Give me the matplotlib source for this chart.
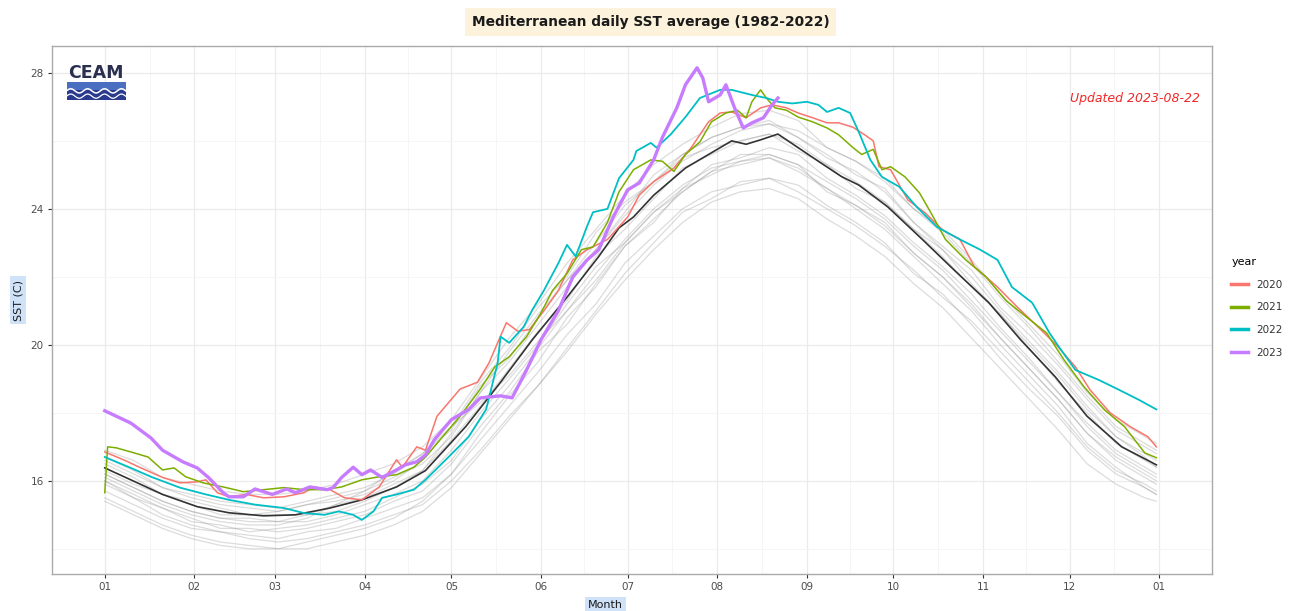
import numpy as np
import matplotlib
matplotlib.use("Agg")
import matplotlib.pyplot as plt
from matplotlib.lines import Line2D
from matplotlib.patches import Rectangle

# month breaks (day of year) and labels
month_days = [0, 31, 59, 90, 120, 151, 181, 212, 243, 273, 304, 334, 365]
month_labels = ["01", "02", "03", "04", "05", "06", "07", "08", "09", "10", "11", "12", "01"]

# historical years 1982-2019 (representative subset)
grey_days = [0, 10, 20, 30, 40, 50, 60, 70, 80, 90, 100, 110, 120, 130, 140, 150, 160, 170,
             180, 190, 200, 210, 220, 230, 240, 250, 260, 270, 280, 290, 300, 310, 320, 330,
             340, 350, 360, 364]
grey_years = [
    [15.7, 15.3, 14.9, 14.6, 14.5, 14.3, 14.2, 14.3, 14.5, 14.7, 15.0, 15.3, 16.0, 16.9, 17.9, 18.8, 19.9, 21.0, 22.1, 23.0, 23.9, 24.3, 24.8, 24.9, 24.7, 24.1, 23.6, 23.0, 22.1, 21.5, 20.6, 19.6, 18.7, 17.9, 16.9, 16.2, 15.8, 15.6],
    [16.0, 15.5, 15.2, 14.9, 14.6, 14.6, 14.5, 14.6, 14.8, 15.0, 15.4, 15.7, 16.5, 17.6, 18.6, 19.8, 20.6, 21.8, 22.9, 23.6, 24.6, 25.0, 25.4, 25.6, 25.3, 24.5, 24.1, 23.6, 22.7, 22.0, 21.1, 20.2, 19.3, 18.4, 17.4, 16.7, 16.2, 16.0],
    [16.7, 16.3, 15.8, 15.6, 15.4, 15.3, 15.2, 15.4, 15.6, 15.8, 16.2, 16.8, 17.5, 18.8, 19.6, 20.8, 21.9, 22.8, 23.9, 25.0, 25.6, 26.1, 26.4, 26.5, 26.1, 25.6, 25.0, 24.6, 23.6, 22.9, 22.2, 21.1, 20.3, 19.4, 18.4, 17.5, 17.0, 16.8],
    [16.2, 15.8, 15.4, 15.1, 14.9, 14.8, 14.8, 14.8, 15.0, 15.3, 15.6, 16.0, 16.9, 18.0, 19.0, 20.0, 21.2, 22.3, 23.0, 23.9, 24.6, 25.3, 25.5, 25.8, 25.6, 24.9, 24.4, 23.8, 23.0, 22.3, 21.5, 20.5, 19.6, 18.6, 17.7, 16.9, 16.4, 16.2],
    [15.5, 15.1, 14.7, 14.4, 14.2, 14.1, 14.0, 14.2, 14.4, 14.6, 14.9, 15.4, 16.2, 17.4, 18.5, 19.5, 20.8, 21.7, 22.9, 23.7, 24.5, 25.1, 25.3, 25.5, 25.1, 24.6, 24.0, 23.4, 22.6, 21.8, 21.0, 20.0, 19.1, 18.2, 17.1, 16.4, 15.8, 15.6],
    [16.5, 16.1, 15.6, 15.4, 15.2, 15.0, 15.1, 15.3, 15.4, 15.6, 16.0, 16.6, 17.6, 18.9, 19.9, 21.1, 22.0, 23.3, 24.2, 24.8, 25.5, 25.8, 26.0, 26.2, 25.9, 25.3, 24.8, 24.2, 23.4, 22.8, 21.8, 20.9, 20.0, 19.1, 18.1, 17.3, 16.8, 16.6],
    [16.0, 15.6, 15.2, 14.8, 14.7, 14.5, 14.6, 14.7, 14.9, 15.1, 15.5, 15.9, 16.6, 17.8, 18.8, 19.9, 21.0, 21.9, 23.0, 23.9, 24.5, 25.1, 25.6, 25.6, 25.3, 24.8, 24.3, 23.7, 22.9, 22.2, 21.3, 20.4, 19.5, 18.6, 17.6, 16.8, 16.3, 16.1],
    [16.9, 16.6, 16.1, 15.9, 15.7, 15.6, 15.6, 15.7, 15.9, 16.2, 16.5, 17.0, 17.8, 19.0, 20.2, 21.2, 22.4, 23.4, 24.4, 25.3, 25.9, 26.4, 26.8, 26.9, 26.6, 25.8, 25.4, 24.9, 24.0, 23.4, 22.5, 21.5, 20.6, 19.7, 18.6, 17.8, 17.3, 17.1],
    [15.9, 15.5, 15.0, 14.7, 14.5, 14.4, 14.3, 14.5, 14.6, 14.9, 15.2, 15.5, 16.2, 17.2, 18.2, 19.2, 20.3, 21.2, 22.4, 23.2, 24.0, 24.5, 24.7, 24.9, 24.5, 24.0, 23.5, 22.9, 22.2, 21.4, 20.7, 19.8, 18.9, 18.0, 17.0, 16.3, 15.9, 15.7],
    [16.3, 15.9, 15.6, 15.3, 15.0, 15.0, 15.0, 15.0, 15.3, 15.5, 15.9, 16.3, 17.2, 18.2, 19.3, 20.4, 21.3, 22.6, 23.4, 24.3, 25.2, 25.6, 26.0, 26.2, 25.7, 25.3, 24.6, 24.2, 23.4, 22.6, 21.7, 20.9, 19.9, 18.9, 18.0, 17.1, 16.6, 16.4],
    [16.2, 15.8, 15.4, 15.1, 14.9, 14.9, 14.8, 15.0, 15.1, 15.4, 15.8, 16.3, 17.4, 18.6, 19.8, 20.9, 21.9, 23.0, 24.1, 24.8, 25.6, 26.1, 26.4, 26.6, 26.1, 25.5, 25.1, 24.5, 23.6, 22.8, 22.0, 21.0, 20.1, 19.2, 18.2, 17.3, 16.7, 16.4],
    [15.4, 15.0, 14.6, 14.3, 14.1, 14.0, 14.0, 14.0, 14.2, 14.4, 14.7, 15.1, 15.8, 16.8, 17.8, 18.8, 19.8, 20.9, 21.9, 22.8, 23.6, 24.2, 24.5, 24.6, 24.3, 23.7, 23.2, 22.6, 21.8, 21.1, 20.2, 19.3, 18.4, 17.5, 16.5, 15.9, 15.5, 15.4],
    [16.6, 16.2, 15.8, 15.5, 15.3, 15.2, 15.1, 15.3, 15.5, 15.7, 16.1, 16.5, 17.3, 18.6, 19.5, 20.6, 21.7, 22.8, 23.8, 24.7, 25.4, 25.9, 26.3, 26.5, 26.3, 25.8, 25.4, 24.8, 24.0, 23.3, 22.4, 21.4, 20.5, 19.5, 18.5, 17.6, 17.1, 16.9],
    [16.1, 15.7, 15.3, 15.0, 14.8, 14.7, 14.7, 14.9, 15.3, 15.7, 16.3, 16.8, 17.6, 18.3, 19.1, 20.1, 21.0, 22.1, 23.1, 24.0, 24.7, 25.2, 25.4, 25.5, 25.2, 24.6, 24.1, 23.5, 22.7, 22.0, 21.2, 20.2, 19.3, 18.4, 17.4, 16.6, 16.1, 15.9],
]

# climatological mean 1982-2022
mean_days = [0, 9, 20, 32, 43, 55, 66, 78, 89, 101, 111, 125, 137, 148, 160, 171, 178, 183,
             190, 201, 210, 217, 222, 227, 233, 240, 247, 255, 261, 271, 283, 294, 306, 317,
             329, 340, 352, 364]
mean_sst = [16.38, 16.03, 15.6, 15.24, 15.06, 14.97, 15.0, 15.2, 15.44, 15.82, 16.3, 17.6,
            18.9, 20.15, 21.4, 22.6, 23.44, 23.76, 24.4, 25.2, 25.65, 26.0, 25.9, 26.03, 26.2,
            25.8, 25.4, 24.95, 24.7, 24.06, 23.1, 22.2, 21.24, 20.15, 19.06, 17.9, 17.0, 16.47]

# 2020
d2020 = [0, 7, 12, 20, 26, 32, 35, 39, 43, 49, 55, 62, 69, 72, 78, 83, 89, 95, 101, 103,
         108, 111, 115, 123, 129, 133, 139, 143, 147, 152, 157, 162, 167, 174, 181, 185, 190,
         197, 203, 209, 213, 217, 222, 227, 231, 236, 240, 245, 250, 254, 259, 263, 266, 268,
         272, 278, 284, 290, 296, 301, 309, 316, 323, 330, 336, 341, 348, 355, 361, 364]
s2020 = [16.85, 16.6, 16.4, 16.1, 15.94, 15.97, 16.03, 15.65, 15.53, 15.6, 15.5, 15.53,
         15.65, 15.82, 15.74, 15.5, 15.44, 15.82, 16.62, 16.4, 17.0, 16.9, 17.9, 18.7, 18.9,
         19.47, 20.65, 20.4, 20.45, 21.0, 21.6, 22.5, 22.8, 23.1, 23.76, 24.4, 24.8, 25.2,
         25.8, 26.56, 26.82, 26.85, 26.68, 26.97, 27.06, 26.97, 26.82, 26.68, 26.53, 26.53,
         26.4, 26.18, 26.0, 25.24, 25.15, 24.26, 23.88, 23.38, 23.1, 22.3, 21.7, 21.1, 20.53,
         19.94, 19.35, 18.68, 18.0, 17.59, 17.3, 17.0]

# 2021
d2021 = [0, 1, 4, 9, 15, 20, 24, 28, 34, 41, 48, 55, 62, 69, 76, 82, 89, 95, 101, 107, 111,
         116, 123, 130, 135, 140, 146, 151, 155, 160, 165, 169, 174, 178, 183, 189, 193, 197,
         201, 206, 210, 215, 219, 222, 224, 227, 229, 232, 236, 240, 245, 250, 254, 259, 262,
         266, 269, 272, 277, 282, 286, 291, 298, 305, 312, 319, 326, 332, 339, 346, 353, 360, 364]
s2021 = [15.65, 17.0, 16.97, 16.85, 16.7, 16.32, 16.38, 16.12, 15.94, 15.82, 15.68, 15.74,
         15.8, 15.74, 15.74, 15.82, 16.03, 16.12, 16.18, 16.4, 16.7, 17.2, 17.9, 18.7, 19.35,
         19.65, 20.24, 20.94, 21.6, 22.1, 22.8, 22.88, 23.6, 24.5, 25.15, 25.44, 25.4, 25.1,
         25.6, 25.97, 26.56, 26.82, 26.9, 26.68, 27.15, 27.5, 27.26, 26.97, 26.9, 26.7, 26.56,
         26.38, 26.18, 25.8, 25.6, 25.75, 25.15, 25.24, 24.94, 24.47, 23.88, 23.1, 22.5, 22.0,
         21.3, 20.82, 20.35, 19.56, 18.76, 18.09, 17.59, 16.82, 16.68]

# 2022
d2022 = [0, 9, 16, 26, 35, 43, 52, 62, 69, 76, 81, 86, 89, 93, 96, 101, 107, 111, 119, 126,
         132, 136, 137, 140, 145, 148, 152, 157, 160, 163, 167, 169, 174, 178, 183, 184, 189,
         191, 196, 201, 206, 213, 217, 224, 229, 233, 238, 243, 247, 250, 254, 258, 261, 265,
         269, 275, 281, 288, 296, 303, 309, 314, 321, 327, 331, 336, 344, 351, 358, 364]
s2022 = [16.7, 16.38, 16.12, 15.8, 15.6, 15.44, 15.3, 15.2, 15.05, 15.0, 15.1, 15.0, 14.85,
         15.1, 15.5, 15.6, 15.74, 16.03, 16.7, 17.3, 18.1, 19.47, 20.24, 20.06, 20.53, 21.03,
         21.6, 22.4, 22.94, 22.6, 23.5, 23.9, 24.0, 24.9, 25.44, 25.7, 25.94, 25.8, 26.2,
         26.7, 27.26, 27.5, 27.5, 27.35, 27.26, 27.15, 27.1, 27.15, 27.06, 26.85, 26.97,
         26.82, 26.26, 25.44, 24.94, 24.65, 24.06, 23.47, 23.1, 22.8, 22.5, 21.7, 21.24,
         20.35, 19.85, 19.26, 18.97, 18.68, 18.38, 18.1]

# 2023 (until 2023-08-22)
d2023 = [0, 9, 16, 20, 27, 32, 36, 41, 43, 48, 52, 58, 63, 66, 71, 77, 79, 82, 86, 89, 92,
         96, 101, 104, 108, 111, 114, 120, 126, 130, 137, 141, 146, 151, 157, 162, 167, 171,
         176, 181, 185, 190, 193, 198, 201, 205, 207, 209, 213, 215, 218, 221, 224, 228, 231, 233]
s2023 = [18.06, 17.7, 17.26, 16.9, 16.56, 16.38, 16.09, 15.65, 15.53, 15.53, 15.76, 15.6,
         15.76, 15.65, 15.82, 15.74, 15.8, 16.1, 16.4, 16.18, 16.32, 16.1, 16.32, 16.47,
         16.56, 16.76, 17.2, 17.8, 18.1, 18.44, 18.5, 18.44, 19.26, 20.15, 21.0, 22.0, 22.5,
         22.8, 23.76, 24.56, 24.76, 25.44, 26.1, 26.97, 27.65, 28.15, 27.85, 27.15, 27.35,
         27.65, 26.97, 26.38, 26.53, 26.68, 27.06, 27.26]

years = ["2020", "2021", "2022", "2023"]
colors = ["#F8766D", "#7CAE00", "#00BFC4", "#C77CFF"]

fig = plt.figure(figsize=(12.91, 6.11), dpi=100)
ax = fig.add_axes([0.0403, 0.0606, 0.8985, 0.8641])

for g in grey_years:
    ax.plot(grey_days, g, color="#8c8c8c", alpha=0.3, lw=0.9, zorder=2)

ax.plot(mean_days, mean_sst, color="#333333", lw=1.2, zorder=4)
ax.plot(d2020, s2020, color=colors[0], lw=1.1, zorder=5)
ax.plot(d2021, s2021, color=colors[1], lw=1.1, zorder=5)
ax.plot(d2022, s2022, color=colors[2], lw=1.3, zorder=5)
ax.plot(d2023, s2023, color=colors[3], lw=2.4, zorder=6, solid_joinstyle="round")

ax.set_xlim(-18.25, 383.25)
ax.set_ylim(13.26, 28.79)
ax.set_xticks(month_days)
ax.set_xticklabels(month_labels)
mid = [(a + b) / 2 for a, b in zip(month_days[:-1], month_days[1:])]
ax.set_xticks(mid, minor=True)
ax.set_yticks([16, 20, 24, 28])
ax.set_yticks([14, 18, 22, 26], minor=True)
ax.grid(which="major", color="#ebebeb", lw=0.9, zorder=0)
ax.grid(which="minor", color="#f4f4f4", lw=0.6, zorder=0)
ax.set_axisbelow(True)
ax.tick_params(which="major", length=3, width=0.8, color="#333333",
               labelsize=7.5, labelcolor="#4d4d4d", pad=3)
ax.tick_params(which="minor", length=0)
for s in ax.spines.values():
    s.set_color("#aaaaaa")
    s.set_linewidth(1.0)

# title, axis labels
fig.text(0.504, 0.964, "Mediterranean daily SST average (1982-2022)", ha="center", va="center",
         fontsize=9.9, fontweight="bold", color="#1a1a1a",
         bbox=dict(boxstyle="square,pad=0.5", facecolor="#fdf3dc", edgecolor="none"))
fig.text(0.014, 0.509, "SST (C)", rotation=90, ha="center", va="center", fontsize=8,
         color="#1a1a1a",
         bbox=dict(boxstyle="square,pad=0.3", facecolor="#cfe2f8", edgecolor="none"))
fig.text(0.469, 0.010, "Month", ha="center", va="center", fontsize=8, color="#1a1a1a",
         bbox=dict(boxstyle="square,pad=0.3", facecolor="#cfe2f8", edgecolor="none"))

ax.text(0.9897, 0.9015, "Updated 2023-08-22", transform=ax.transAxes, ha="right",
        va="center", fontsize=9, style="italic", color="#f02828")

# CEAM logo
ax.text(0.038, 0.948, "CEAM", transform=ax.transAxes, ha="center", va="center",
        fontsize=12.5, fontweight="bold", color="#2b2f4f", zorder=7)
ax.add_patch(Rectangle((0.0125, 0.898), 0.051, 0.033, transform=ax.transAxes,
                       facecolor="#2a3b8f", edgecolor="none", zorder=7))
ax.add_patch(Rectangle((0.0125, 0.917), 0.051, 0.014, transform=ax.transAxes,
                       facecolor="#4a6fc0", edgecolor="none", zorder=7))
wx = np.linspace(0.0125, 0.0635, 60)
ax.plot(wx, 0.915 + 0.004 * np.sin((wx - 0.0125) / 0.051 * 2 * np.pi * 3.5),
        transform=ax.transAxes, color="white", lw=1.1, zorder=8)
ax.plot(wx, 0.905 + 0.004 * np.sin((wx - 0.0125) / 0.051 * 2 * np.pi * 3.5),
        transform=ax.transAxes, color="white", lw=0.9, zorder=8)

handles = [Line2D([0], [0], color=c, lw=2.5) for c in colors]
leg = fig.legend(handles, years, title="year", loc="upper left",
                 bbox_to_anchor=(0.9466, 0.595), frameon=False, fontsize=7.5,
                 title_fontsize=8, handlelength=1.6, handletextpad=0.8, labelspacing=1.22,
                 alignment="left")
for t in leg.get_texts():
    t.set_color("#333333")

fig.savefig("out.png", dpi=100, facecolor="white")
